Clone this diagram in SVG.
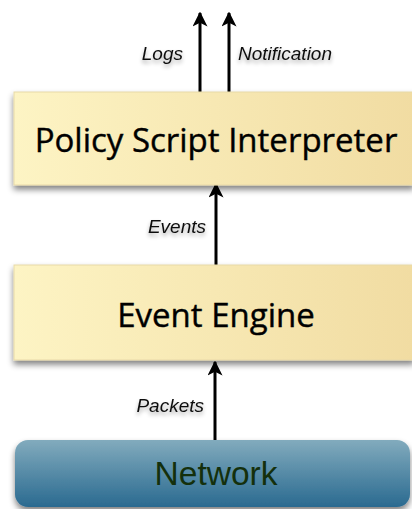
<svg xmlns="http://www.w3.org/2000/svg" width="412" height="509" viewBox="0 0 412 509">
<style>
.lbl{font-family:"Liberation Sans",Arial,sans-serif;font-style:italic;font-size:19px;fill:#111}
.big{font-family:"Open Sans","Liberation Sans",sans-serif;font-size:33px;fill:#000;stroke:#000;stroke-width:0.4}
.net{font-family:"Liberation Sans",Arial,sans-serif;font-size:33.5px;fill:#14300c}
.conn{stroke:#000;stroke-width:3;fill:none;marker-end:url(#ah)}
</style>
<defs>
<linearGradient id="yel" x1="0" y1="0" x2="1" y2="0">
<stop offset="0" stop-color="#fdf4c4"/>
<stop offset="1" stop-color="#f1dca2"/>
</linearGradient>
<linearGradient id="blu" x1="0" y1="0" x2="0" y2="1">
<stop offset="0" stop-color="#82abbd"/>
<stop offset="1" stop-color="#2a6a90"/>
</linearGradient>
<filter id="sh" x="-10%" y="-20%" width="120%" height="150%">
<feGaussianBlur in="SourceAlpha" stdDeviation="3"/>
<feOffset dy="4" result="b"/>
<feComponentTransfer><feFuncA type="linear" slope="0.5"/></feComponentTransfer>
<feMerge><feMergeNode/><feMergeNode in="SourceGraphic"/></feMerge>
</filter>
<filter id="tsh" x="-20%" y="-50%" width="140%" height="200%">
<feGaussianBlur in="SourceAlpha" stdDeviation="2"/>
<feOffset dy="3"/>
<feComponentTransfer><feFuncA type="linear" slope="0.35"/></feComponentTransfer>
<feMerge><feMergeNode/><feMergeNode in="SourceGraphic"/></feMerge>
</filter>
<marker id="ah" viewBox="0 0 10 10" refX="9" refY="5" markerWidth="5" markerHeight="5" orient="auto" markerUnits="strokeWidth">
<path d="M0,0 L10,5 L0,10 L2.5,5 z" fill="#000"/>
</marker>
</defs>
<g id="connectors">
<line class="conn" x1="200" y1="92" x2="200" y2="13"/>
<line class="conn" x1="229" y1="92" x2="229" y2="13"/>
<line class="conn" x1="216" y1="265" x2="216" y2="184"/>
<line class="conn" x1="215" y1="440" x2="215" y2="362"/>
<text class="lbl" x="183" y="60" text-anchor="end" filter="url(#tsh)">Logs</text>
<text class="lbl" x="238" y="60" filter="url(#tsh)">Notification</text>
<text class="lbl" x="206" y="233" text-anchor="end" filter="url(#tsh)">Events</text>
<text class="lbl" x="204" y="412" text-anchor="end" filter="url(#tsh)">Packets</text>
</g>
<g id="policy">
<rect x="14" y="92" width="400" height="93" fill="url(#yel)" stroke="#e8d9a8" stroke-width="1" filter="url(#sh)"/>
<text class="big" x="216" y="152" text-anchor="middle">Policy Script Interpreter</text>
</g>
<g id="engine">
<rect x="14" y="265" width="400" height="95" fill="url(#yel)" stroke="#e8d9a8" stroke-width="1" filter="url(#sh)"/>
<text class="big" x="216" y="327" text-anchor="middle">Event Engine</text>
</g>
<g id="network">
<rect x="15" y="440" width="395" height="67" rx="13" ry="13" fill="url(#blu)" filter="url(#sh)"/>
<text class="net" x="216" y="485" text-anchor="middle">Network</text>
</g>
</svg>
